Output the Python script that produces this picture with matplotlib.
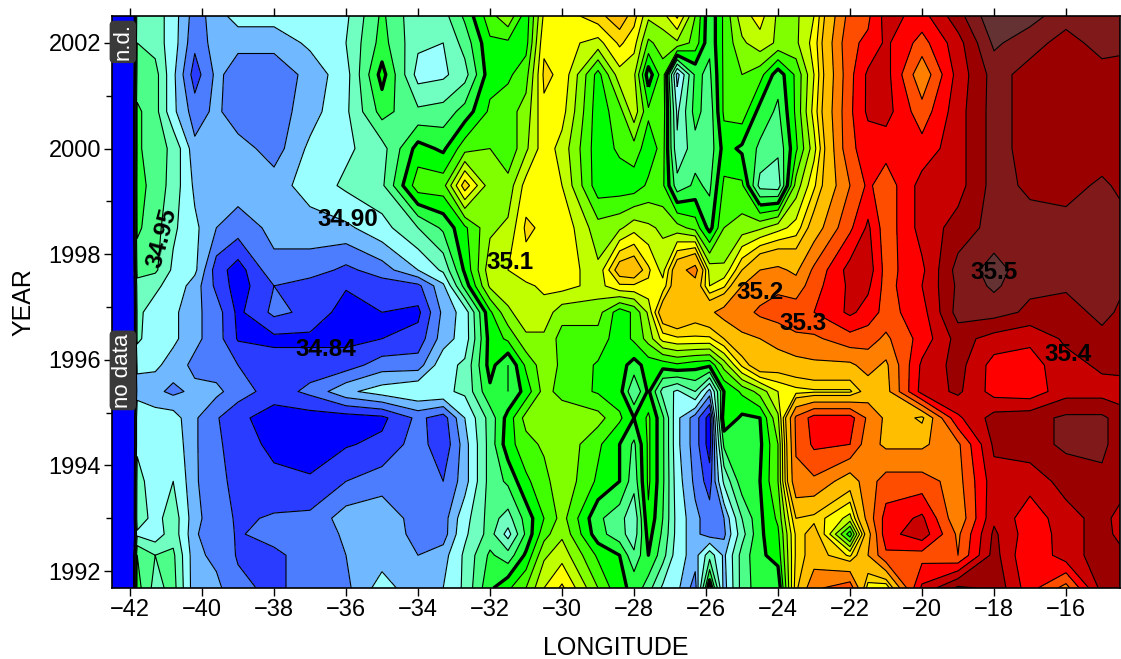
import numpy as np
import matplotlib
matplotlib.use('Agg')
import matplotlib.pyplot as plt

plt.rcParams['font.family'] = ['Liberation Sans', 'DejaVu Sans']

lon = [-42.5, -42.0, -41.8, -41.3, -40.8, -40.2, -39.6, -39, -38, -37, -36, -35, -34, -33.3, -32.7,
       -32, -31.5, -31, -30.5, -30, -29, -28.4, -28, -27.6, -27.2, -26.8, -26.3, -25.9, -25.5, -25,
       -24.5, -24, -23.5, -23, -22, -21.5, -21, -20, -19, -18, -17, -16, -15, -14.5]
year = [1991.68, 1992.3, 1992.7, 1993, 1993.7, 1994.4, 1994.9, 1995.4, 1995.9, 1996.4, 1996.9,
        1997.4, 1997.7, 1998.5, 1999.3, 2000, 2000.7, 2001.4, 2002, 2002.51]

# salinity, one row per year, columns as in lon
salinity = [
    [34.70, 34.70, 34.985, 34.94, 34.96, 34.885, 34.885, 34.865, 34.855, 34.87, 34.875, 34.91, 34.885, 34.90, 34.93, 34.995, 35.02, 35.05, 35.10, 35.13, 35.05, 35.005, 34.995, 34.96, 34.92, 34.905, 34.87, 35.02, 34.89, 34.96, 34.99, 34.98, 35.14, 35.24, 35.28, 35.11, 35.10, 35.36, 35.46, 35.44, 35.32, 35.23, 35.42, 35.42],
    [34.70, 34.70, 34.975, 34.95, 34.955, 34.885, 34.875, 34.858, 34.855, 34.87, 34.88, 34.89, 34.88, 34.89, 34.93, 34.98, 34.96, 35.005, 35.07, 35.09, 35.02, 35.0, 34.955, 35.0, 34.96, 34.91, 34.89, 34.94, 34.895, 34.96, 34.995, 35.01, 35.13, 35.17, 35.12, 35.20, 35.29, 35.28, 35.25, 35.42, 35.30, 35.38, 35.42, 35.42],
    [34.70, 34.70, 34.92, 34.91, 34.94, 34.882, 34.87, 34.858, 34.868, 34.86, 34.885, 34.89, 34.875, 34.87, 34.92, 34.96, 34.915, 34.98, 35.04, 35.07, 34.985, 34.96, 34.935, 35.01, 34.97, 34.915, 34.885, 34.87, 34.875, 34.94, 34.995, 35.02, 35.13, 35.17, 35.01, 35.18, 35.33, 35.38, 35.24, 35.41, 35.32, 35.37, 35.43, 35.38],
    [34.70, 34.70, 34.94, 34.915, 34.94, 34.885, 34.87, 34.857, 34.862, 34.865, 34.89, 34.895, 34.87, 34.87, 34.915, 34.96, 34.94, 34.985, 35.025, 35.06, 34.98, 34.96, 34.93, 35.02, 34.975, 34.915, 34.885, 34.87, 34.88, 34.95, 34.995, 35.03, 35.15, 35.14, 35.09, 35.22, 35.32, 35.36, 35.21, 35.39, 35.32, 35.38, 35.42, 35.38],
    [34.70, 34.70, 34.935, 34.91, 34.925, 34.883, 34.865, 34.855, 34.848, 34.842, 34.86, 34.87, 34.87, 34.86, 34.89, 34.96, 34.98, 35.02, 35.04, 35.07, 35.02, 35.0, 34.96, 35.03, 34.98, 34.91, 34.875, 34.85, 34.93, 34.99, 35.0, 35.05, 35.24, 35.24, 35.17, 35.23, 35.27, 35.27, 35.23, 35.38, 35.37, 35.42, 35.44, 35.43],
    [34.70, 34.70, 34.92, 34.915, 34.915, 34.883, 34.862, 34.855, 34.832, 34.832, 34.838, 34.845, 34.87, 34.845, 34.89, 34.96, 35.015, 35.04, 35.055, 35.07, 35.03, 35.0, 34.97, 35.03, 34.98, 34.905, 34.87, 34.83, 34.98, 35.0, 34.995, 35.05, 35.255, 35.31, 35.30, 35.22, 35.19, 35.19, 35.24, 35.41, 35.43, 35.46, 35.46, 35.43],
    [34.70, 34.70, 34.92, 34.91, 34.91, 34.883, 34.862, 34.845, 34.83, 34.83, 34.83, 34.835, 34.865, 34.85, 34.90, 34.96, 35.01, 35.06, 35.06, 35.07, 35.06, 35.03, 35.0, 35.03, 34.98, 34.905, 34.87, 34.83, 35.02, 34.995, 35.0, 35.07, 35.26, 35.32, 35.32, 35.24, 35.19, 35.14, 35.34, 35.42, 35.43, 35.46, 35.46, 35.43],
    [34.70, 34.70, 34.89, 34.885, 34.875, 34.885, 34.885, 34.87, 34.85, 34.865, 34.895, 34.91, 34.92, 34.92, 34.93, 34.995, 34.975, 35.01, 35.06, 35.04, 35.022, 35.01, 34.95, 35.005, 34.94, 34.92, 34.95, 34.89, 35.0, 35.03, 35.06, 35.10, 35.115, 35.12, 35.12, 35.17, 35.18, 35.37, 35.41, 35.33, 35.32, 35.38, 35.38, 35.37],
    [34.70, 34.70, 34.905, 34.905, 34.89, 34.875, 34.87, 34.86, 34.85, 34.85, 34.85, 34.87, 34.87, 34.915, 34.93, 35.01, 34.975, 35.03, 35.065, 35.045, 35.022, 35.01, 34.99, 35.01, 35.01, 35.02, 35.01, 35.005, 35.06, 35.13, 35.18, 35.17, 35.18, 35.19, 35.19, 35.22, 35.19, 35.36, 35.42, 35.33, 35.33, 35.38, 35.41, 35.42],
    [34.70, 34.70, 34.93, 34.91, 34.905, 34.885, 34.87, 34.838, 34.835, 34.835, 34.835, 34.84, 34.848, 34.89, 34.91, 35.01, 35.03, 35.07, 35.07, 35.04, 35.04, 35.01, 35.03, 35.06, 35.11, 35.12, 35.12, 35.12, 35.15, 35.19, 35.20, 35.22, 35.24, 35.24, 35.28, 35.27, 35.24, 35.32, 35.42, 35.38, 35.36, 35.41, 35.43, 35.43],
    [34.70, 34.70, 34.93, 34.915, 34.905, 34.885, 34.87, 34.835, 34.865, 34.855, 34.83, 34.84, 34.835, 34.885, 34.91, 35.02, 35.07, 35.09, 35.09, 35.06, 35.06, 35.01, 35.03, 35.08, 35.18, 35.20, 35.17, 35.19, 35.22, 35.23, 35.26, 35.27, 35.28, 35.30, 35.36, 35.33, 35.28, 35.33, 35.47, 35.47, 35.44, 35.42, 35.47, 35.44],
    [34.70, 34.70, 34.94, 34.93, 34.915, 34.89, 34.855, 34.83, 34.86, 34.85, 34.842, 34.85, 34.855, 34.895, 34.985, 35.08, 35.09, 35.095, 35.105, 35.11, 35.09, 35.12, 35.12, 35.12, 35.11, 35.18, 35.18, 35.10, 35.12, 35.20, 35.22, 35.24, 35.22, 35.28, 35.36, 35.36, 35.28, 35.35, 35.46, 35.51, 35.46, 35.46, 35.47, 35.46],
    [34.70, 34.70, 34.96, 34.955, 34.92, 34.905, 34.85, 34.83, 34.875, 34.87, 34.855, 34.87, 34.90, 34.93, 35.005, 35.09, 35.10, 35.115, 35.115, 35.12, 35.08, 35.17, 35.18, 35.13, 35.09, 35.18, 35.22, 35.09, 35.08, 35.15, 35.20, 35.21, 35.19, 35.26, 35.37, 35.38, 35.28, 35.34, 35.47, 35.52, 35.47, 35.49, 35.47, 35.47],
    [34.70, 34.70, 34.98, 34.96, 34.93, 34.905, 34.88, 34.87, 34.885, 34.89, 34.895, 34.915, 34.95, 34.98, 35.02, 35.07, 35.08, 35.13, 35.12, 35.12, 35.06, 35.07, 35.09, 35.08, 35.07, 35.06, 35.04, 34.99, 35.05, 35.06, 35.07, 35.09, 35.11, 35.17, 35.29, 35.36, 35.27, 35.37, 35.42, 35.47, 35.47, 35.47, 35.47, 35.47],
    [34.70, 34.70, 34.985, 34.965, 34.94, 34.895, 34.89, 34.89, 34.89, 34.91, 34.93, 34.945, 35.04, 35.04, 35.14, 35.06, 35.06, 35.11, 35.12, 35.10, 35.01, 35.01, 35.01, 35.03, 35.03, 34.96, 34.98, 34.97, 35.03, 35.03, 34.94, 34.935, 35.06, 35.12, 35.25, 35.31, 35.27, 35.37, 35.38, 35.47, 35.44, 35.43, 35.46, 35.44],
    [34.70, 34.70, 34.98, 34.96, 34.945, 34.885, 34.89, 34.89, 34.87, 34.905, 34.92, 34.94, 35.01, 34.995, 35.04, 35.05, 35.03, 35.07, 35.115, 35.09, 35.01, 35.03, 35.04, 35.01, 35.035, 34.93, 34.965, 34.96, 35.01, 34.995, 34.97, 34.955, 35.02, 35.09, 35.29, 35.32, 35.32, 35.32, 35.38, 35.47, 35.43, 35.42, 35.42, 35.42],
    [34.70, 34.70, 34.98, 34.96, 34.905, 34.87, 34.885, 34.865, 34.87, 34.89, 34.92, 34.985, 34.955, 34.96, 34.985, 35.03, 35.04, 35.06, 35.12, 35.11, 35.01, 35.04, 35.09, 35.03, 35.04, 34.92, 34.985, 34.96, 35.03, 35.04, 34.99, 34.97, 35.03, 35.11, 35.29, 35.36, 35.37, 35.27, 35.38, 35.47, 35.43, 35.42, 35.42, 35.42],
    [34.70, 34.70, 34.96, 34.96, 34.905, 34.85, 34.885, 34.87, 34.87, 34.885, 34.915, 35.01, 34.915, 34.92, 34.94, 35.015, 35.02, 35.04, 35.13, 35.12, 35.015, 35.09, 35.08, 34.985, 35.04, 34.89, 34.98, 34.97, 35.03, 35.05, 35.035, 34.985, 35.03, 35.10, 35.285, 35.36, 35.37, 35.21, 35.37, 35.47, 35.43, 35.42, 35.43, 35.42],
    [34.70, 34.70, 34.95, 34.94, 34.91, 34.865, 34.89, 34.885, 34.885, 34.905, 34.925, 34.985, 34.93, 34.925, 34.96, 35.02, 35.02, 35.015, 35.12, 35.11, 35.09, 35.13, 35.11, 35.045, 35.06, 35.07, 35.04, 34.98, 35.03, 35.07, 35.09, 35.07, 35.07, 35.11, 35.29, 35.31, 35.36, 35.28, 35.38, 35.51, 35.47, 35.43, 35.47, 35.47],
    [34.70, 34.70, 34.94, 34.94, 34.91, 34.87, 34.89, 34.91, 34.91, 34.91, 34.92, 34.98, 34.93, 34.94, 34.98, 35.04, 35.07, 35.01, 35.105, 35.11, 35.14, 35.17, 35.135, 35.08, 35.09, 35.13, 35.05, 34.98, 35.03, 35.09, 35.11, 35.07, 35.07, 35.10, 35.27, 35.29, 35.37, 35.33, 35.43, 35.54, 35.52, 35.47, 35.47, 35.47],
]

levels = [34.84, 34.86, 34.88, 34.90, 34.925, 34.95, 34.975, 35.0, 35.025, 35.05, 35.075,
          35.10, 35.125, 35.15, 35.2, 35.25, 35.3, 35.35, 35.4, 35.45, 35.5]
band_colors = ['#0000ff', '#2a3cff', '#4d7dff', '#70b8ff', '#99ffff', '#70ffc0', '#4dff88',
               '#26ff40', '#00ff00', '#40ff00', '#80ff00', '#bfff00', '#ffff00', '#ffd800',
               '#ffbf00', '#ff8000', '#ff4d00', '#ff0000', '#c80000', '#9a0000', '#801a1a',
               '#643232']
line_widths = [2.4 if l == 35.0 else 0.8 for l in levels]

# label text, lon, year, rotation
contour_labels = [('34.95', -41.1, 1998.3, 75), ('34.90', -35.95, 1998.65, 0),
                  ('35.1', -31.45, 1997.85, 0), ('35.2', -24.5, 1997.27, 0),
                  ('35.3', -23.3, 1996.68, 0), ('35.5', -18.0, 1997.65, 0),
                  ('35.4', -15.95, 1996.1, 0), ('34.84', -36.55, 1996.2, 0)]

fig = plt.figure(figsize=(11.21, 6.59), dpi=100)
ax = fig.add_axes([112 / 1121, 1 - 588 / 659, (1120 - 112) / 1121, (588 - 16) / 659])

ax.contourf(lon, year, salinity, levels=levels, colors=band_colors, extend='both')
ax.contour(lon, year, salinity, levels=levels, colors='k', linewidths=line_widths)

for txt, x, y, rot in contour_labels:
    ax.text(x, y, txt, fontsize=17.5, fontweight='bold', ha='center', va='center', rotation=rot)

box = dict(boxstyle='round,pad=0.12,rounding_size=0.2', facecolor='#3a3a3a', edgecolor='none')
ax.text(-42.2, 2002.02, 'n.d.', color='white', fontsize=16, rotation=90, ha='center', va='center', bbox=box)
ax.text(-42.2, 1995.8, 'no data', color='white', fontsize=16, rotation=90, ha='center', va='center', bbox=box)

ax.set_xlim(-42.5, -14.5)
ax.set_ylim(1991.68, 2002.51)
ax.set_xticks(np.arange(-42, -15, 2))
ax.set_yticks(np.arange(1992, 2003, 2))
ax.set_yticks(np.arange(1993, 2002, 2), minor=True)
ax.tick_params(axis='both', which='major', labelsize=17, length=6, width=1, top=True, pad=2)
ax.tick_params(axis='y', which='minor', length=4, width=1)
ax.set_xlabel('LONGITUDE', fontsize=18, labelpad=11)
ax.set_ylabel('YEAR', fontsize=18, labelpad=9)
for spine in ax.spines.values():
    spine.set_linewidth(1.2)

fig.savefig('out.png', dpi=100)
